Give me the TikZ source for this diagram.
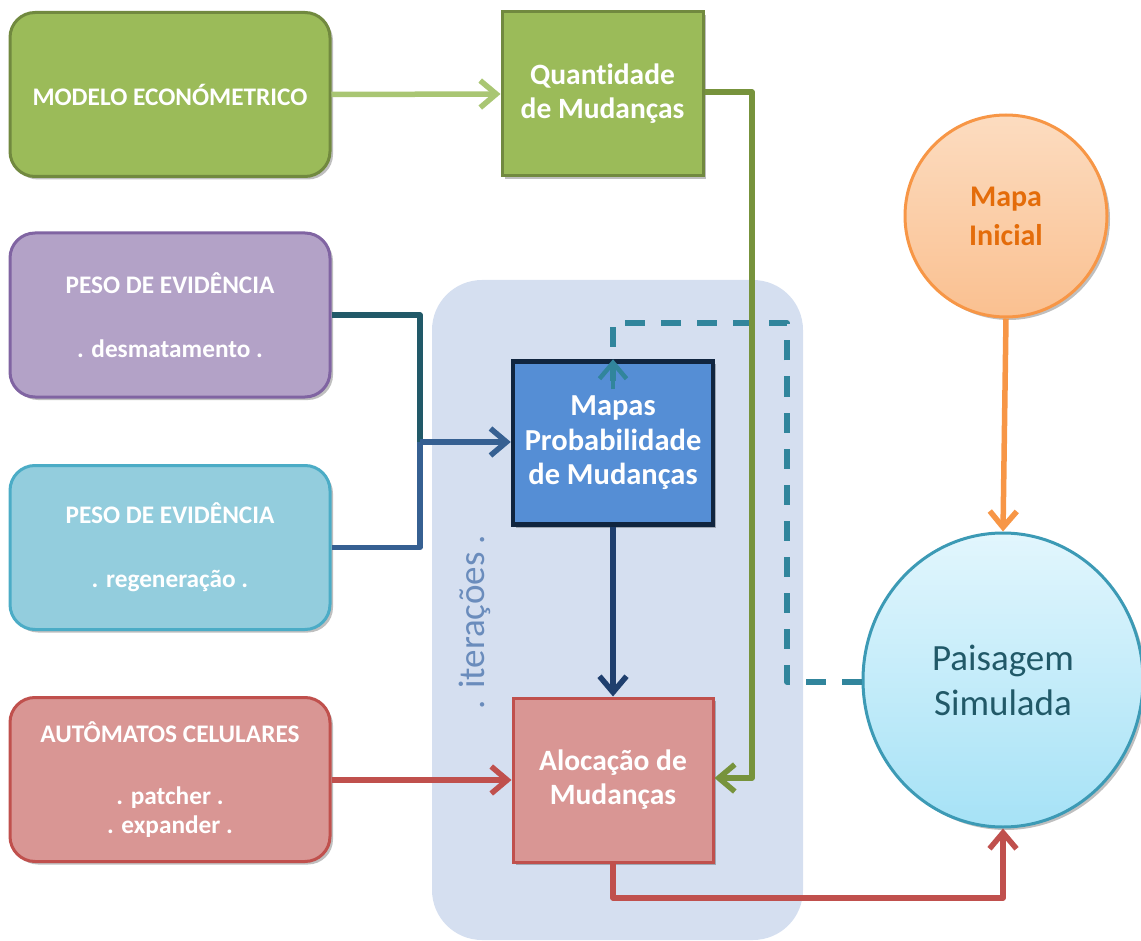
\documentclass[tikz,border=0pt]{standalone}
\usepackage{fontspec}
\setmainfont{Carlito}[Ligatures=NoCommon]
\usetikzlibrary{arrows.meta,shadows,shapes.geometric}
\definecolor{gfill}{HTML}{9BBB59}
\definecolor{gline}{HTML}{71893F}
\definecolor{garrow}{HTML}{A9C673}
\definecolor{garrowd}{HTML}{77933C}
\definecolor{pfill}{HTML}{B3A2C7}
\definecolor{pline}{HTML}{8064A2}
\definecolor{cfill}{HTML}{93CDDD}
\definecolor{cline}{HTML}{4BACC6}
\definecolor{rfill}{HTML}{D99694}
\definecolor{rline}{HTML}{C0504D}
\definecolor{bfill}{HTML}{558ED5}
\definecolor{bline}{HTML}{10253F}
\definecolor{itbg}{HTML}{D5DFF0}
\definecolor{ofill}{HTML}{FAC090}
\definecolor{ofilltop}{HTML}{FCDCC0}
\definecolor{oline}{HTML}{F79646}
\definecolor{otext}{HTML}{E46C0A}
\definecolor{sfilltop}{HTML}{E2F6FD}
\definecolor{sfill}{HTML}{A6E2F6}
\definecolor{sline}{HTML}{3C9AB5}
\definecolor{stext}{HTML}{215968}
\definecolor{teal}{HTML}{215968}
\definecolor{midblue}{HTML}{366092}
\definecolor{darkblue}{HTML}{1F3F6E}
\definecolor{dashc}{HTML}{31859C}
\definecolor{ittext}{HTML}{6A8CBC}
\tikzset{
  shad/.style={drop shadow={opacity=0.25,shadow xshift=3pt,shadow yshift=-3pt,fill=black}},
  leftbox/.style={rectangle,rounded corners=25pt,minimum width=320pt,minimum height=164pt,
     line width=3pt,text=white,align=center,shad,font=\bfseries\fontsize{25.3}{29}\selectfont},
  sqbox/.style={rectangle,minimum width=200pt,minimum height=163pt,line width=3pt,
     text=white,align=center,shad,font=\bfseries\fontsize{29.5}{34}\selectfont},
  conn/.style={line width=5.5pt,line join=round},
  tip/.style={-{Straight Barb[length=16pt,width=27pt]}},
}
\begin{document}
\begin{tikzpicture}[x=1pt,y=-1pt]
\useasboundingbox (0,0) rectangle (1141,941);
% iteration background
\node[rectangle,rounded corners=50pt,fill=itbg,minimum width=371pt,minimum height=660pt,inner sep=0pt] (itbox) at (617.5,610) {};
\node[rotate=90,text=ittext,font=\fontsize{37}{40}\selectfont] (itlabel) at (475,622) {. iterações .};
% left boxes
\node[leftbox,fill=gfill,draw=gline] (modelo) at (170,94.5) {MODELO ECONÓMETRICO};
\node[leftbox,fill=pfill,draw=pline] (pesod) at (170,315) {PESO DE EVIDÊNCIA\\[35pt]. desmatamento .};
\node[leftbox,fill=cfill,draw=cline] (pesor) at (170,547.5) {PESO DE EVIDÊNCIA\\[35pt]. regeneração .};
\node[leftbox,fill=rfill,draw=rline] (auto) at (170,779.5) {AUTÔMATOS CELULARES\\[33pt]. patcher .\\. expander .};
% square boxes
\node[sqbox,fill=gfill,draw=gline,minimum width=201pt,minimum height=164pt] (quant) at (602.5,94) {Quantidade\\de Mudanças};
\node[sqbox,fill=bfill,draw=bline,line width=4.5pt,font=\bfseries\fontsize{30.5}{34.5}\selectfont] (mapas) at (613,443) {Mapas\\Probabilidade\\de Mudanças};
\node[sqbox,fill=rfill,draw=rline,minimum height=164pt] (aloc) at (613,780) {Alocação de\\Mudanças};
% circles
\node[circle,minimum size=202pt,line width=3pt,draw=oline,top color=ofilltop,bottom color=ofill,
      text=otext,align=center,shad,font=\bfseries\fontsize{30}{39}\selectfont] (mapaini) at (1006,216) {Mapa\\Inicial};
\node[ellipse,minimum width=280pt,minimum height=294pt,line width=3pt,draw=sline,top color=sfilltop,bottom color=sfill,
      text=stext,align=center,shad,font=\fontsize{37}{45}\selectfont] (pais) at (1003,680) {Paisagem\\Simulada};
% connectors
\coordinate (j) at (420,442);
\coordinate (dc1) at (787,682);
\coordinate (dc2) at (787,323);
\coordinate (dc3) at (613,323);
\draw[conn,dashc,dash pattern=on 20pt off 16pt] (pais.west |- dc1) -- (dc1) -- (dc2) -- (dc3) -- ([yshift=-22pt]mapas.north);
\draw[conn,dashc,line width=4.5pt,tip] ([yshift=-30pt]mapas.north) -- (mapas.north);
\draw[conn,garrow,tip] (modelo.east) -- (quant.west);
\coordinate (g1) at (752,92);
\coordinate (g2) at (752,778);
\draw[conn,garrowd,tip] (quant.east |- g1) -- (g1) -- (g2) -- (aloc.east |- g2);
\draw[conn,teal] (pesod.east) -- (pesod.east -| j) -- (j);
\draw[conn,midblue] (pesor.east) -- (pesor.east -| j) -- (j);
\draw[conn,midblue,tip] (j) -- (mapas.west |- j);
\draw[conn,darkblue,tip] (mapas.south) -- (aloc.north);
\draw[conn,rline,tip] (auto.east |- aloc.west) -- (aloc.west);
\coordinate (r1) at (613,898);
\draw[conn,rline,tip] (aloc.south) -- (r1) -| (pais.south);
\draw[conn,oline,tip] (mapaini.south) -- (pais.north);
\end{tikzpicture}
\end{document}
